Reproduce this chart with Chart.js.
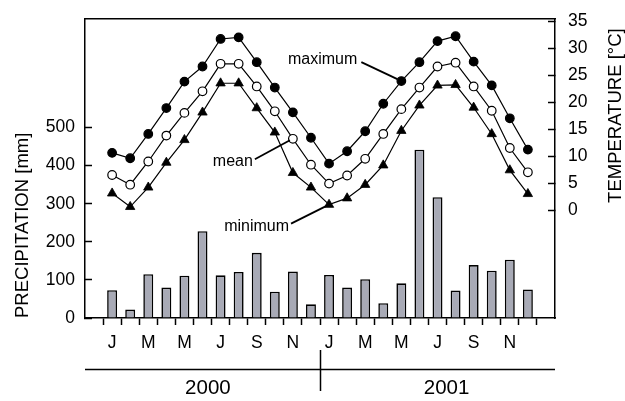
<!DOCTYPE html>
<html>
<head>
<meta charset="utf-8">
<title>Precipitation and temperature 2000–2001</title>
<script src="https://cdn.jsdelivr.net/npm/chart.js@4.4.1/dist/chart.umd.min.js"></script>
<style>
  html, body { margin: 0; padding: 0; background: #fff; }
  #wrap { width: 625px; height: 401px; }
</style>
</head>
<body>
<div id="wrap"><canvas id="c" width="625" height="401"></canvas></div>
<script>
// Monthly climate record, January 2000 – December 2001
const monthLetters = ['J', 'F', 'M', 'A', 'M', 'J', 'J', 'A', 'S', 'O', 'N', 'D'];
const years = ['2000', '2001'];

// monthly precipitation [mm]
const precipitation = [73, 22, 115, 80, 111, 228, 112, 121, 171, 69, 122, 36,
                       113, 80, 102, 39, 91, 442, 317, 72, 139, 124, 153, 75];

// monthly temperatures [°C]
const tempMax  = [10.6, 9.6, 14.1, 18.9, 23.8, 26.6, 31.7, 32.0, 27.4, 22.7, 18.1, 13.4,
                  8.6, 10.9, 14.6, 19.7, 23.9, 27.4, 31.3, 32.2, 27.5, 23.1, 17.0, 11.2];
const tempMean = [6.5, 4.7, 9.0, 13.8, 18.0, 22.0, 27.1, 27.1, 22.9, 18.3, 13.2, 8.4,
                  4.9, 6.4, 9.5, 14.1, 18.7, 22.7, 26.6, 27.3, 22.9, 18.4, 11.5, 7.0];
const tempMin  = [3.1, 0.6, 4.2, 8.8, 13.0, 18.1, 23.5, 23.5, 18.9, 14.4, 6.9, 4.2,
                  1.0, 2.2, 4.7, 8.3, 14.7, 19.4, 23.1, 23.2, 19.0, 14.1, 7.4, 3.0];

// axis tick values
const precipTicks = [0, 100, 200, 300, 400, 500];
const tempTicks = [0, 5, 10, 15, 20, 25, 30, 35];

// ---- chart building ----
const FONT = '"Liberation Sans", Arial, Helvetica, sans-serif';
const BLACK = '#000';

// an empty slot on each side of the two years
const pad = arr => [null, ...arr, null];
const xLabels = ['', ...monthLetters, ...monthLetters, ''];

// year band under the month letters (category units / pixel offsets below the axis)
const yearBand = { divideAt: 12.5, labelAt: [6.3, 19.5], lineDy: 51.5, dividerTop: 32, dividerBottom: 73, labelDy: 70.5 };

// callout texts pointing at one marker of a series
const callouts = [
  { text: 'maximum', series: 0, month: 16, textDx: -44, textDy: -21, fromDx: -40, fromDy: -19, toDx: -4, toDy: -2 },
  { text: 'mean',    series: 1, month: 10, textDx: -40, textDy: 23,  fromDx: -38, fromDy: 20.5, toDx: -3, toDy: 1.5 },
  { text: 'minimum', series: 2, month: 12, textDx: -40, textDy: 21.5, fromDx: -38, fromDy: 19, toDx: -2, toDy: 1 }
];

const decorations = {
  id: 'decorations',
  afterDatasetsDraw(chart) {
    const { ctx } = chart;
    ctx.save();
    ctx.fillStyle = BLACK;
    ctx.strokeStyle = BLACK;
    ctx.lineWidth = 1.8;
    ctx.font = '16px ' + FONT;
    ctx.textAlign = 'right';
    ctx.textBaseline = 'middle';
    callouts.forEach(c => {
      const pt = chart.getDatasetMeta(c.series).data[c.month + 1];
      ctx.beginPath();
      ctx.moveTo(pt.x + c.fromDx, pt.y + c.fromDy);
      ctx.lineTo(pt.x + c.toDx, pt.y + c.toDy);
      ctx.stroke();
      ctx.fillText(c.text, pt.x + c.textDx, pt.y + c.textDy);
    });
    ctx.restore();
  },
  afterDraw(chart) {
    const { ctx, chartArea, scales } = chart;
    const x = scales.x, y2 = scales.y2;
    const base = chartArea.bottom;
    ctx.save();
    ctx.strokeStyle = BLACK;
    ctx.fillStyle = BLACK;
    ctx.lineWidth = 1.5;
    ctx.beginPath();
    ctx.moveTo(chartArea.left, base + yearBand.lineDy);
    ctx.lineTo(chartArea.right, base + yearBand.lineDy);
    const xd = Math.round(x.getPixelForValue(yearBand.divideAt)) + 0.5;
    ctx.moveTo(xd, base + yearBand.dividerTop);
    ctx.lineTo(xd, base + yearBand.dividerBottom);
    ctx.stroke();
    ctx.font = '20.5px ' + FONT;
    ctx.textAlign = 'center';
    ctx.textBaseline = 'middle';
    years.forEach((yr, k) => ctx.fillText(yr, x.getPixelForValue(yearBand.labelAt[k]), base + yearBand.labelDy));

    // right axis title, reading bottom to top
    const midY = (y2.getPixelForValue(tempTicks[0]) + y2.getPixelForValue(tempTicks[tempTicks.length - 1])) / 2;
    ctx.translate(616, midY);
    ctx.rotate(-Math.PI / 2);
    ctx.font = '18.5px ' + FONT;
    ctx.fillText('TEMPERATURE [°C]', 0, 0);
    ctx.restore();
  }
};

const lineBase = {
  type: 'line',
  yAxisID: 'y2',
  borderColor: BLACK,
  borderWidth: 1.2,
  tension: 0,
  pointBorderColor: BLACK,
  pointBorderWidth: 1.2
};

// vertical axes: fixed width, and no extra room reserved above/below for their labels
const fixVertical = w => s => { s.width = w; s.paddingTop = 0; s.paddingBottom = 0; };

new Chart(document.getElementById('c'), {
  type: 'bar',
  data: {
    labels: xLabels,
    datasets: [
      { ...lineBase, label: 'maximum', data: pad(tempMax), pointStyle: 'circle', pointRadius: 4.3, pointBackgroundColor: BLACK },
      { ...lineBase, label: 'mean', data: pad(tempMean), pointStyle: 'circle', pointRadius: 4.3, pointBackgroundColor: '#fff' },
      { ...lineBase, label: 'minimum', data: pad(tempMin), pointStyle: 'triangle', pointRadius: 5.4, pointBackgroundColor: BLACK, pointBorderWidth: 0.8 },
      {
        type: 'bar', label: 'precipitation', data: pad(precipitation), yAxisID: 'y',
        backgroundColor: '#a8aab6', borderColor: BLACK, borderWidth: 1.6,
        barPercentage: 0.55, categoryPercentage: 1.0
      }
    ]
  },
  options: {
    responsive: false,
    animation: false,
    events: [],
    devicePixelRatio: 1,
    layout: { padding: { top: 19, left: 0, right: 0, bottom: 0 } },
    plugins: { legend: { display: false }, tooltip: { enabled: false } },
    scales: {
      x: {
        type: 'category',
        position: 'bottom',
        offset: true,
        grid: {
          offset: true, drawOnChartArea: false, drawTicks: true, tickLength: 7, tickWidth: 1.5,
          tickColor: ctx => (ctx.index === undefined || ctx.index === 0) ? 'rgba(0,0,0,0)' : BLACK
        },
        border: { display: true, color: BLACK, width: 1.5 },
        ticks: {
          autoSkip: false, maxRotation: 0, padding: 8, color: BLACK,
          font: { family: FONT, size: 17.5 },
          callback: function (val, idx) { return idx % 2 === 1 ? this.getLabelForValue(val) : ''; }
        },
        afterFit: s => { s.height = 83; s.paddingLeft = 0; s.paddingRight = 0; }
      },
      xTop: {
        type: 'category',
        position: 'top',
        grid: { display: true, drawOnChartArea: false, drawTicks: false },
        border: { display: true, color: BLACK, width: 1.5 },
        ticks: { display: false },
        afterFit: s => { s.height = 0; s.paddingLeft = 0; s.paddingRight = 0; }
      },
      y: {
        type: 'linear',
        position: 'left',
        min: 0,
        max: 785,
        grid: { drawOnChartArea: false, drawTicks: true, tickLength: -7, tickWidth: 1.5, tickColor: BLACK },
        border: { display: true, color: BLACK, width: 1.5 },
        ticks: { padding: 17, color: BLACK, font: { family: FONT, size: 17.5 } },
        afterBuildTicks: s => { s.ticks = precipTicks.map(v => ({ value: v })); },
        title: {
          display: true, text: 'PRECIPITATION [mm]', align: 'start', color: BLACK,
          font: { family: FONT, size: 18.5 }, padding: { top: 12, bottom: 0 }
        },
        afterFit: fixVertical(85)
      },
      y2: {
        type: 'linear',
        position: 'right',
        min: -20,
        max: 35.4,
        grid: { drawOnChartArea: false, drawTicks: true, tickLength: -7, tickWidth: 1.5, tickColor: BLACK },
        border: { display: true, color: BLACK, width: 1.5 },
        ticks: { padding: 20, color: BLACK, font: { family: FONT, size: 17.5 } },
        afterBuildTicks: s => { s.ticks = tempTicks.map(v => ({ value: v })); },
        afterFit: fixVertical(70)
      }
    }
  },
  plugins: [decorations]
});
</script>
</body>
</html>
